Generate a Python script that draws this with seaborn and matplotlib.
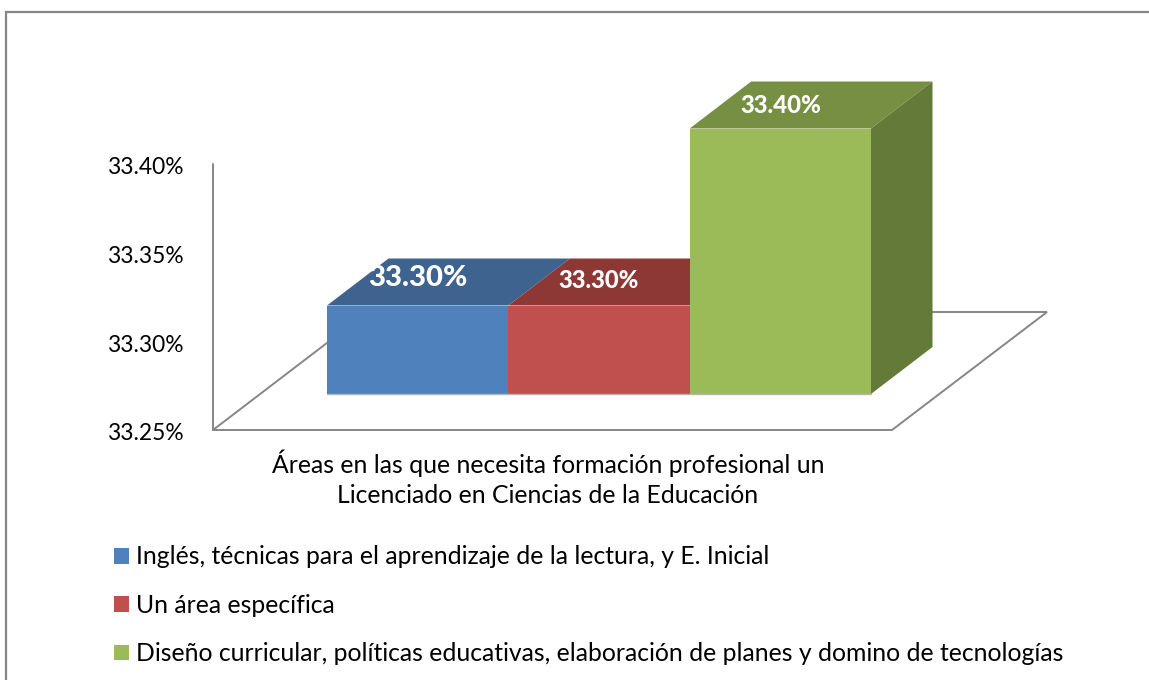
# -*- coding: utf-8 -*-
import matplotlib
matplotlib.use("Agg")
import matplotlib.pyplot as plt
from matplotlib.lines import Line2D
from matplotlib.transforms import ScaledTranslation
import seaborn as sns

categories = [
    "Inglés, técnicas para el aprendizaje de la lectura, y E. Inicial",
    "Un área específica",
    "Diseño curricular, políticas educativas, elaboración de planes y domino de tecnologías",
]
values = [33.30, 33.30, 33.40]
y_ticks = [33.25, 33.30, 33.35, 33.40]
axis_title = "Áreas en las que necesita formación profesional un\nLicenciado en Ciencias de la Educación"

front_colors = ["#4F81BD", "#C0504D", "#9BBB59"]
top_colors = ["#3E638F", "#8E3836", "#778F43"]
side_color = "#637A39"
line_color = "#868686"
W, H = 1149, 680


def px(x, y):
    return x / W, 1 - y / H


def floor_line(xs, ys, lw=1.4, zorder=-1):
    pts = [px(x, y) for x, y in zip(xs, ys)]
    fig.add_artist(Line2D([p[0] for p in pts], [p[1] for p in pts], color=line_color,
                          lw=lw, zorder=zorder, transform=fig.transFigure,
                          solid_joinstyle="miter"))


sns.set_theme(style="white")
plt.rcParams["font.family"] = ["Lato", "DejaVu Sans"]
plt.rcParams["text.color"] = "#000000"

fig = plt.figure(figsize=(W / 100, H / 100), dpi=100)
ax = fig.add_axes([327 / W, 1 - 394 / H, 544 / W, 265.5 / H])
ax.patch.set_visible(False)

sns.barplot(x=categories, y=values, hue=categories, palette=front_colors, width=1,
            dodge=False, saturation=1, legend=False, linewidth=0, zorder=2, ax=ax)
handles = list(ax.patches[:3])
ax.set_xlim(-0.5, 2.5)
ax.set_ylim(y_ticks[0], y_ticks[-1])
sns.despine(ax=ax, left=True, bottom=True)

# depth of the fake 3D bars, in data units
dx = 61.5 / (544 / 3)
dy = 47 / (265.5 / 0.15)
for i, v in enumerate(values):
    ax.fill([i - 0.5, i + 0.5, i + 0.5 + dx, i - 0.5 + dx],
            [v, v, v + dy, v + dy], color=top_colors[i], lw=0, clip_on=False, zorder=1)
ax.fill([2.5, 2.5 + dx, 2.5 + dx, 2.5],
        [y_ticks[0], y_ticks[0] + dy, values[2] + dy, values[2]],
        color=side_color, lw=0, clip_on=False, zorder=1)
ax.plot([-0.5, 2.5], [y_ticks[0], y_ticks[0]], color="#b5b5b5", lw=1, clip_on=False, zorder=3)

# value labels
label_sizes = [21.2, 17.2, 17.3]
label_lift = [27, 24.5, 23]
for i, v in enumerate(values):
    ax.annotate("%.2f%%" % v, (i, v), xytext=(0, label_lift[i] * 0.72),
                textcoords="offset points", ha="center", va="center",
                color="white", fontweight="black", fontsize=label_sizes[i],
                annotation_clip=False, zorder=4)

# tick labels sit on the front edge of the floor
ax.set_xticks([])
ax.set_yticks(y_ticks)
ax.set_yticklabels(["%.2f%%" % t for t in y_ticks])
ax.tick_params(axis="y", length=0, pad=142.5 * 0.72, labelsize=16.4, labelcolor="black")
shift = ScaledTranslation(0, -37.5 / 100, fig.dpi_scale_trans)
for tick in ax.get_yticklabels():
    tick.set_transform(tick.get_transform() + shift)

ax.set_xlabel(axis_title, fontsize=17.8, color="black", linespacing=1.42, ha="center", va="top")
ax.xaxis.set_label_coords((548 - 327) / 544, -(449 - 394) / 265.5)

# chart frame, wall and floor
floor_line([6, 6, W], [H, 12, 12], lw=1.6)
floor_line([213, 213, 892, 1047, 932], [164, 430, 430, 312, 312])
floor_line([213, 340], [430, 333])

fs = 17.8
fig.legend(handles, categories, loc="upper left", bbox_to_anchor=px(101.6, 533), frameon=False,
           fontsize=fs, handlelength=10.8 / fs, handleheight=10.8 / fs,
           handletextpad=5 / fs, labelspacing=1.03, borderpad=0.5, borderaxespad=0)

fig.savefig("out.png", dpi=100)
